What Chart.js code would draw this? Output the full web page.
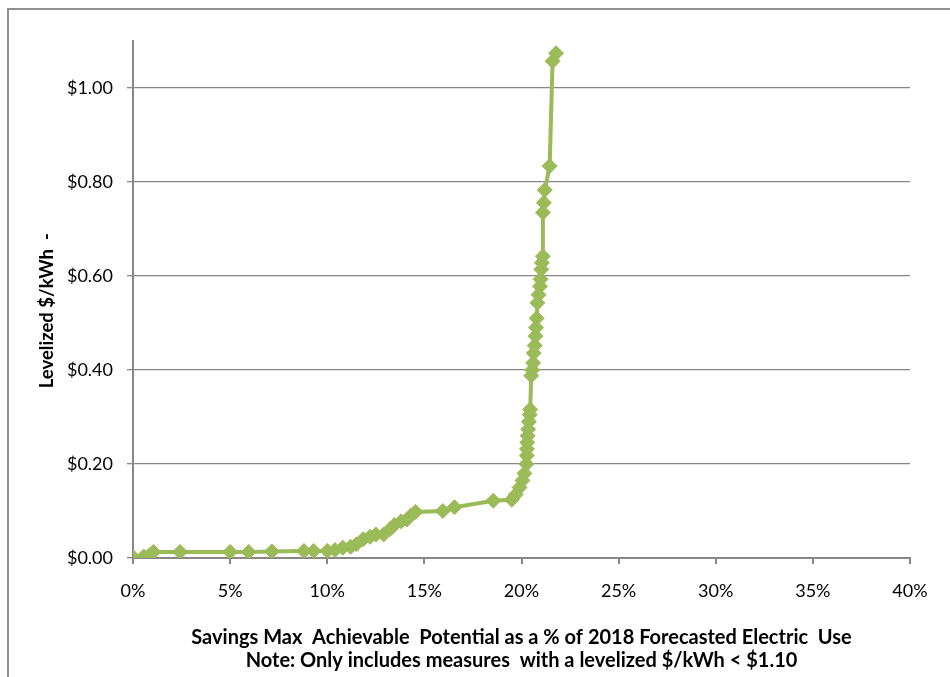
<!DOCTYPE html>
<html>
<head>
<meta charset="utf-8">
<script src="https://cdn.jsdelivr.net/npm/chart.js@4/dist/chart.umd.min.js"></script>
<style>
  body { margin: 0; background: #fff; }
  #wrap { position: relative; width: 950px; height: 677px; overflow: hidden; }
  #frame { position: absolute; left: 7px; top: 8px; width: 1100px; height: 1100px;
           border: 2px solid #8f8f8f; pointer-events: none; }
  canvas { position: absolute; left: 0; top: 0; }
</style>
</head>
<body>
<div id="wrap">
  <canvas id="supplyCurve" width="950" height="677"></canvas>
  <div id="frame"></div>
</div>
<script>
// cumulative savings (% of 2018 forecast) and levelized cost ($/kWh)
const savingsPct = [
  0.0, 0.55, 0.8, 1.05, 2.42, 5.0, 5.95, 7.15, 8.8, 9.3,
  10.0, 10.4, 10.8, 11.2, 11.5, 11.85, 12.2, 12.5, 12.9, 13.25,
  13.45, 13.8, 14.1, 14.3, 14.55, 15.95, 16.55, 18.55, 19.5, 19.7,
  19.9, 20.05, 20.15, 20.25, 20.27, 20.28, 20.3, 20.32, 20.34, 20.38,
  20.42, 20.45, 20.5, 20.55, 20.6, 20.63, 20.68, 20.72, 20.75, 20.78,
  20.82, 20.88, 20.95, 20.98, 21.02, 21.05, 21.1, 21.1, 21.15, 21.2,
  21.45, 21.6, 21.78
];
const levelizedCost = [
  0.002, 0.003, 0.004, 0.013, 0.013, 0.013, 0.013, 0.014, 0.015, 0.015,
  0.015, 0.017, 0.022, 0.024, 0.029, 0.040, 0.045, 0.050, 0.050, 0.062,
  0.070, 0.078, 0.082, 0.090, 0.098, 0.100, 0.108, 0.122, 0.124, 0.135,
  0.150, 0.165, 0.180, 0.200, 0.218, 0.232, 0.246, 0.260, 0.274, 0.290,
  0.305, 0.316, 0.388, 0.400, 0.415, 0.436, 0.452, 0.472, 0.490, 0.510,
  0.543, 0.560, 0.578, 0.593, 0.614, 0.628, 0.642, 0.735, 0.756, 0.783,
  0.834, 1.057, 1.074
];
const yTickValues = [0, 0.2, 0.4, 0.6, 0.8, 1.0];
const xTitle = [
  "Savings Max  Achievable  Potential as a % of 2018 Forecasted Electric  Use",
  "Note: Only includes measures  with a levelized $/kWh < $1.10"
];
const yTitle = "Levelized $/kWh  -     ";

const green = "#9BBB59";
const gridGray = "#878787";
const fontFamily = "Lato, 'Liberation Sans', sans-serif";

const points = savingsPct.map((p, i) => ({ x: p, y: levelizedCost[i] }));

new Chart(document.getElementById("supplyCurve").getContext("2d"), {
  type: "line",
  data: {
    datasets: [{
      data: points,
      borderColor: green,
      backgroundColor: green,
      borderWidth: 4,
      tension: 0,
      pointStyle: "rectRot",
      pointRadius: 7.5,
      pointBorderWidth: 1,
      pointBorderColor: green,
      pointBackgroundColor: green
    }]
  },
  options: {
    responsive: false,
    animation: false,
    layout: { padding: { left: 0, right: 40, top: 41, bottom: 0 } },
    plugins: {
      legend: { display: false },
      tooltip: { enabled: false }
    },
    scales: {
      x: {
        type: "linear",
        min: 0,
        max: 40,
        afterFit: (s) => { s.height = 119; },
        border: { color: gridGray, width: 2 },
        grid: { drawOnChartArea: false, drawTicks: true, tickLength: 6, color: gridGray, lineWidth: 2 },
        ticks: {
          stepSize: 5,
          padding: 16,
          color: "#000",
          font: { family: fontFamily, size: 18 },
          maxRotation: 0,
          callback: (v) => v + "%"
        },
        title: {
          display: true,
          text: xTitle,
          color: "#000",
          font: { family: fontFamily, size: 20, weight: "bold", lineHeight: 1.15 },
          padding: { top: 0, bottom: 5 }
        }
      },
      y: {
        min: 0,
        max: 1.1,
        afterFit: (s) => { s.width = 133; },
        afterBuildTicks: (s) => { s.ticks = yTickValues.map(v => ({ value: v })); },
        border: { color: gridGray, width: 2 },
        grid: { color: gridGray, lineWidth: 1.3, tickLength: 6 },
        ticks: {
          padding: 14,
          color: "#000",
          font: { family: fontFamily, size: 18 },
          callback: (v) => "$" + Number(v).toFixed(2)
        },
        title: {
          display: true,
          text: yTitle,
          color: "#000",
          font: { family: fontFamily, size: 18.5, weight: "bold" },
          padding: { top: 36, bottom: 0 }
        }
      }
    }
  }
});
</script>
</body>
</html>
